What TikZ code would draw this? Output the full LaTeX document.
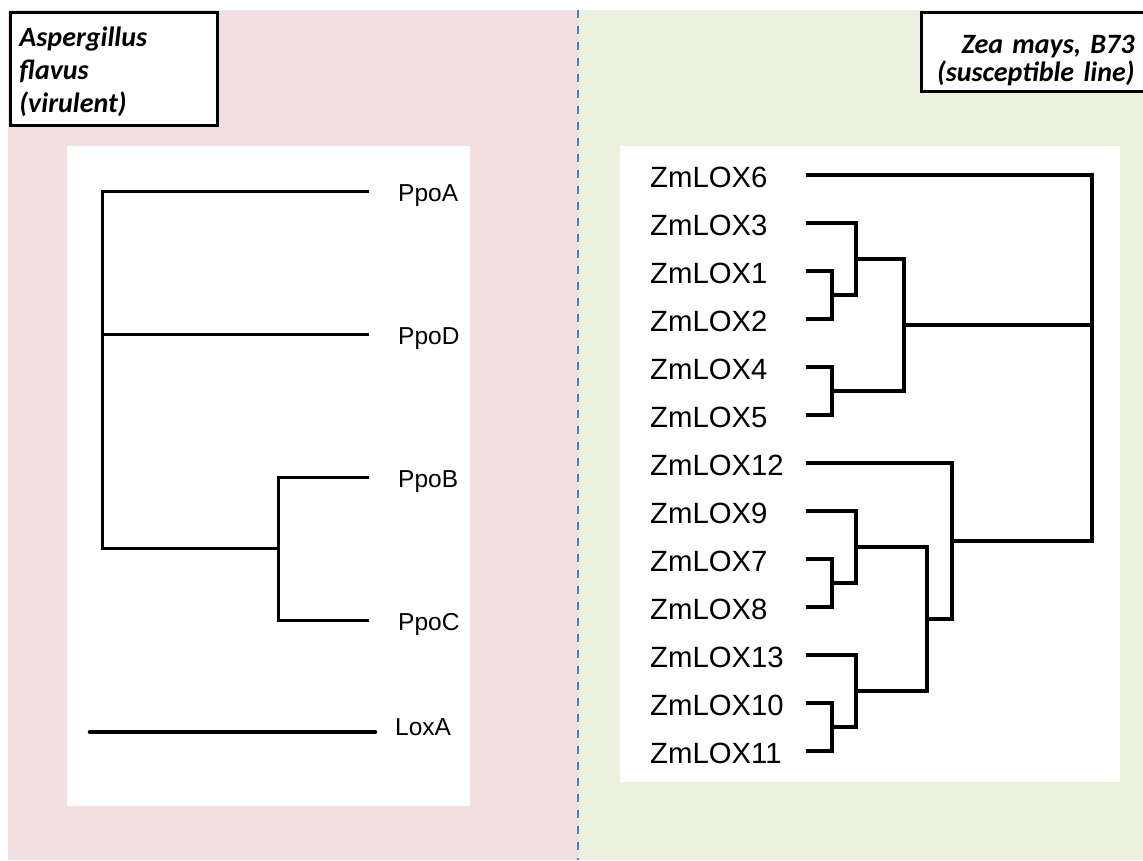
\documentclass[tikz,border=0pt]{standalone}
\usepackage{fontspec}
\setmainfont{Liberation Sans}
\newfontfamily\titlefont{Carlito}
\definecolor{panelpink}{HTML}{F2DFDF}
\definecolor{panelgreen}{HTML}{EBF1DE}
\definecolor{divblue}{HTML}{4A7EC4}

\begin{document}
\begin{tikzpicture}[x=1pt,y=-1pt,
  branch/.style={line width=3pt, line join=miter},
  zbranch/.style={line width=3.6pt, line join=miter},
  loxline/.style={line width=4.6pt, line cap=round},
  divider/.style={draw=divblue, line width=2.2pt, dash pattern=on 8pt off 8pt},
  ppolabel/.style={anchor=base west, inner sep=0pt, font=\fontsize{24.5}{28}\selectfont},
  zmlabel/.style={anchor=base west, inner sep=0pt, font=\fontsize{29.3}{32}\selectfont},
  titlebox/.style={draw=black, line width=3pt, fill=white, anchor=north west,
    inner xsep=9.5pt, inner ysep=0pt}
]
\useasboundingbox (0,0) rectangle (1143,860);
\begin{scope}
\clip (0,0) rectangle (1143,860);

% panels
\fill[white] (0,0) rectangle (1143,860);
\fill[panelpink] (8,10) rectangle (578,860);
\fill[panelgreen] (578,10) rectangle (1143,860);
\fill[white] (67,146) rectangle (470,806);
\fill[white] (620,146) rectangle (1120,782);

% dashed divider
\coordinate (divtop) at (578,10);
\coordinate (divbot) at (578,860);
\draw[divider] (divtop) -- (divbot);

% ---- Aspergillus tree ----
\node[ppolabel] (PpoA) at (398,201) {PpoA};
\node[ppolabel] (PpoD) at (398,344) {PpoD};
\node[ppolabel] (PpoB) at (398,487) {PpoB};
\node[ppolabel] (PpoC) at (398,630) {PpoC};
\node[ppolabel] (LoxA) at (395,735) {LoxA};

\coordinate (tA) at (369,191);
\coordinate (tD) at (369,334);
\coordinate (tB) at (369,477);
\coordinate (tC) at (369,620);
\coordinate (nBC) at (278,548.5);
\coordinate (rL) at (102,548.5);
\coordinate (lx0) at (90,732);
\coordinate (lx1) at (375,732);

\draw[branch] (tA) -| (rL) -- (nBC);
\draw[branch] (tD) -- (tD -| rL);
\draw[branch] (tB) -| (nBC) |- (tC);
\draw[loxline] (lx0) -- (lx1);

% ---- maize tree ----
\foreach \name [count=\i from 0] in {6,3,1,2,4,5,12,9,7,8,13,10,11} {
  \node[zmlabel] (Z\name) at ({650},{187+48*\i}) {ZmLOX\name};
  \coordinate (t\name) at ({806},{175+48*\i});
}

\coordinate (n12) at (832,295);
\coordinate (n312) at (856,259);
\coordinate (n45) at (832,391);
\coordinate (nUp) at (904,325);
\coordinate (n78) at (832,583);
\coordinate (n978) at (856,547);
\coordinate (n1011) at (832,727);
\coordinate (n131011) at (856,691);
\coordinate (nLow) at (927,619);
\coordinate (n12L) at (952,541);
\coordinate (nRoot) at (1092,541);

\draw[zbranch] (t1) -| (n12) |- (t2);
\draw[zbranch] (t3) -| (n312) |- (n12);
\draw[zbranch] (t4) -| (n45) |- (t5);
\draw[zbranch] (n312) -| (nUp) |- (n45);
\draw[zbranch] (t7) -| (n78) |- (t8);
\draw[zbranch] (t9) -| (n978) |- (n78);
\draw[zbranch] (t10) -| (n1011) |- (t11);
\draw[zbranch] (t13) -| (n131011) |- (n1011);
\draw[zbranch] (n978) -| (nLow) |- (n131011);
\draw[zbranch] (t12) -| (n12L) |- (nLow);
\draw[zbranch] (t6) -| (nRoot) -- (n12L);
\draw[zbranch] (nUp) -- (nUp -| nRoot);

% ---- organism boxes ----
\node[titlebox, text width=188pt, align=left, text height=34.5pt, text depth=78.5pt,
  font=\titlefont\bfseries\itshape\fontsize{28}{33}\selectfont]
  (fungus) at (8.5,10.5) {Aspergillus\\flavus\\(virulent)};
% the box runs past the right edge; a blank rule keeps the text inside the page
\node[titlebox, text width=240pt, align=right, text height=41pt, text depth=38pt,
  font=\titlefont\bfseries\itshape\fontsize{28}{28.5}\selectfont]
  (maize) at (919.5,10.5) {Zea mays, B73\rule{36pt}{0pt}\\(susceptible line)\rule{36pt}{0pt}};
\end{scope}
\end{tikzpicture}
\end{document}
